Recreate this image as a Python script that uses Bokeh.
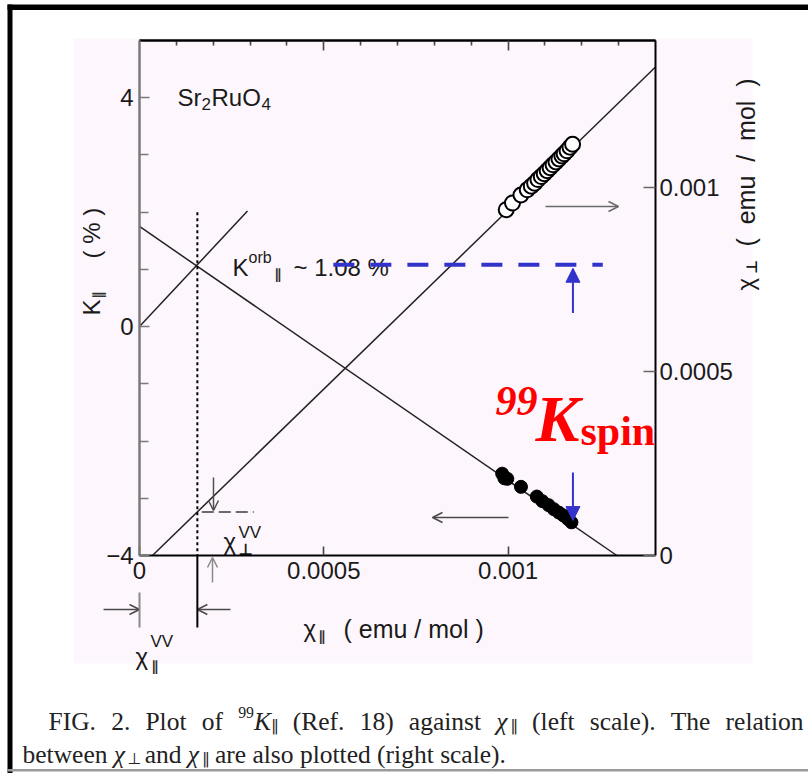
import math
from bokeh.plotting import figure
from bokeh.models import (Range1d, LinearAxis, FixedTicker, Label, Arrow,
                          OpenHead, NormalHead, BoxAnnotation)
from bokeh.core.properties import value
from bokeh.embed import file_html
from bokeh.resources import INLINE

# ---------------------------------------------------------------- data
# Knight shift of 99Ru (left scale) against chi_par
chi_par_k = [0.000984, 0.000990, 0.000998, 0.001035, 0.001078, 0.001093,
             0.001110, 0.001124, 0.001138, 0.001150, 0.001162, 0.001172]
k_par = [-2.57, -2.65, -2.66, -2.80, -2.97, -3.05,
         -3.12, -3.19, -3.25, -3.30, -3.36, -3.42]

# chi_perp against chi_par (right scale)
chi_par_open = [0.000995, 0.001012, 0.001035, 0.001052, 0.001063, 0.001072,
                0.001081, 0.001090, 0.001098, 0.001106, 0.001114, 0.001122,
                0.001130, 0.001138, 0.001146, 0.001152, 0.001160, 0.001168,
                0.001175]
chi_perp_open = [0.000940, 0.000958, 0.000980, 0.000994, 0.001004, 0.001012,
                 0.001022, 0.001030, 0.001038, 0.001046, 0.001054, 0.001062,
                 0.001070, 0.001078, 0.001086, 0.001092, 0.001100, 0.001110,
                 0.001118]

# fitted straight lines (end points)
k_fit_chi = [0.0, 0.001295]
k_fit_k = [1.75, -4.0]
orb_fit_chi = [0.0, 0.000293]
orb_fit_k = [0.0, 2.02]
perp_fit_chi_par = [0.0000352, 0.0014]
perp_fit_chi_perp = [0.0, 0.001328]

chi_vv_par = 0.000157     # Van Vleck part of chi_par
chi_vv_perp = 0.000118    # Van Vleck part of chi_perp
k_orb = 1.08              # orbital Knight shift (%)
k_orb_top = 2.0           # top of the dotted marker

# ticks
x_ticks = [0, 0.0005, 0.001]
x_tick_labels = ["0", "0.0005", "0.001"]
x_minor = [0.0001, 0.0002, 0.0003, 0.0004, 0.0006, 0.0007, 0.0008, 0.0009,
           0.0011, 0.0012, 0.0013]
k_ticks = [-4, 0, 4]
k_tick_labels = ["\u22124", "0", "4"]
k_minor = [-3, -2, -1, 1, 2, 3]
perp_ticks = [0, 0.0005, 0.001]
perp_tick_labels = ["0", "0.0005", "0.001"]

X_BOX = (0.0, 0.0014)      # chi_par span of the plot box
K_BOX = (-4.0, 5.0)        # K span of the plot box
PERP_BOX = (0.0, 0.0014)   # chi_perp span of the plot box

# ---------------------------------------------------------------- page geometry
W, H = 808, 773
BOX_L, BOX_R, BOX_T, BOX_B = 139, 655, 40, 555   # plot box on the page

SANS = "Liberation Sans"
SYM = "DejaVu Sans"
SERIF = "Liberation Serif"
INK = "#1a1a1a"
PINK = "#fdf7fd"
BLUE = "#3333cc"
RED = "#ff0000"
NB = "\u00a0"   # non-collapsing space for wide gaps in titles


def cx(px):
    """page column -> chi_par"""
    return X_BOX[0] + (px - BOX_L) * (X_BOX[1] - X_BOX[0]) / (BOX_R - BOX_L)


def cy(py):
    """page row -> K (left scale)"""
    return K_BOX[1] - (py - BOX_T) * (K_BOX[1] - K_BOX[0]) / (BOX_B - BOX_T)


def cperp(py):
    """page row -> chi_perp (right scale)"""
    return PERP_BOX[0] + (BOX_B - py) * (PERP_BOX[1] - PERP_BOX[0]) / (BOX_B - BOX_T)


# the frame covers the whole page; axes sit at fixed locations around the box
p = figure(width=W, height=H, x_range=Range1d(cx(0), cx(W)),
           y_range=Range1d(cy(H), cy(0)),
           output_backend="svg", toolbar_location=None,
           x_axis_location=None, y_axis_location=None, min_border=0)
p.extra_y_ranges = {"perp": Range1d(cperp(H), cperp(0))}
p.grid.visible = False
p.background_fill_color = "white"
p.border_fill_color = "white"
p.outline_line_color = None

# ---------------------------------------------------------------- page decoration
p.add_layout(BoxAnnotation(left=cx(73), right=cx(752), top=cy(38), bottom=cy(663),
                           fill_color=PINK, fill_alpha=1.0, line_color=None,
                           level="underlay"))
p.add_layout(BoxAnnotation(left=cx(7), right=cx(815), top=cy(4), bottom=cy(9.5),
                           fill_color="black", fill_alpha=1.0, line_color=None))
p.add_layout(BoxAnnotation(left=cx(7), right=cx(12), top=cy(4), bottom=cy(780),
                           fill_color="black", fill_alpha=1.0, line_color=None))
p.add_layout(BoxAnnotation(left=cx(7), right=cx(815), top=cy(768.5), bottom=cy(771),
                           fill_color="#9a9a9a", fill_alpha=1.0, line_color=None))


# ---------------------------------------------------------------- axes
def style_axis(ax, line_color="black", tick_color="#444", tick_in=10, minor_in=0,
               standoff=6):
    ax.axis_line_color = line_color
    ax.axis_line_width = 2
    ax.major_tick_in = tick_in
    ax.major_tick_out = 0
    ax.minor_tick_in = minor_in
    ax.minor_tick_out = 0
    ax.major_tick_line_color = tick_color
    ax.major_tick_line_width = 1.6
    ax.minor_tick_line_color = tick_color
    ax.minor_tick_line_width = 1.6
    ax.major_label_text_font = SANS
    ax.major_label_text_font_size = "24px"
    ax.major_label_text_color = INK
    ax.major_label_standoff = standoff


xb = LinearAxis(ticker=FixedTicker(ticks=x_ticks, minor_ticks=[]),
                major_label_overrides=dict(zip(x_ticks, x_tick_labels)),
                fixed_location=K_BOX[0], bounds=X_BOX)
style_axis(xb, tick_in=9, standoff=6)
p.add_layout(xb, "below")

# top edge: short minor ticks and longer ticks at the labelled values, no labels
xt_minor = LinearAxis(ticker=FixedTicker(ticks=[], minor_ticks=x_minor),
                      fixed_location=K_BOX[1], bounds=X_BOX)
style_axis(xt_minor, minor_in=5)
p.add_layout(xt_minor, "above")
xt_major = LinearAxis(ticker=FixedTicker(ticks=[], minor_ticks=x_ticks[1:]),
                      fixed_location=K_BOX[1], bounds=X_BOX)
style_axis(xt_major, minor_in=10)
p.add_layout(xt_major, "above")

yl = LinearAxis(ticker=FixedTicker(ticks=k_ticks, minor_ticks=k_minor),
                major_label_overrides=dict(zip(k_ticks, k_tick_labels)),
                fixed_location=X_BOX[0], bounds=K_BOX)
style_axis(yl, line_color="#7a7a7a", tick_color="#7a7a7a", tick_in=10, minor_in=9,
           standoff=6)
yl.axis_line_width = 2.5
p.add_layout(yl, "left")

yr = LinearAxis(y_range_name="perp",
                ticker=FixedTicker(ticks=perp_ticks, minor_ticks=[]),
                major_label_overrides=dict(zip(perp_ticks, perp_tick_labels)),
                fixed_location=X_BOX[1], bounds=PERP_BOX)
style_axis(yr, tick_color="#666", tick_in=12, standoff=4)
p.add_layout(yr, "right")

# ---------------------------------------------------------------- lines
p.line(k_fit_chi, k_fit_k, line_color="#222222", line_width=1.5)
p.line(orb_fit_chi, orb_fit_k, line_color="#222222", line_width=1.5)
p.line(perp_fit_chi_par, perp_fit_chi_perp, y_range_name="perp",
       line_color="#222222", line_width=1.5)
p.line([chi_vv_par, chi_vv_par], [k_orb_top, K_BOX[0]], line_color="black",
       line_width=2, line_dash="3 3")
p.line([chi_vv_par + 0.000012, 0.00031], [chi_vv_perp, chi_vv_perp],
       y_range_name="perp", line_color="#6a6a6a", line_width=2, line_dash="12 5")


# ---------------------------------------------------------------- in-plot text
def glyph_text(px, py, s, size, font=SANS, color=INK, style="normal"):
    p.text(x=[cx(px)], y=[cy(py)], text=[s], text_font=value(font),
           text_font_size=value(f"{size}px"), text_color=color,
           text_font_style=style, text_baseline="alphabetic", text_align="left")


glyph_text(177, 97, "Sr", 24)
glyph_text(201, 103, "2", 17)
glyph_text(211, 97, "RuO", 24)
glyph_text(261, 103, "4", 17)

glyph_text(232, 267, "K", 24)
glyph_text(248, 257, "orb", 16)
glyph_text(274, 273, "\u2225", 14, font=SYM, color="#333333", style="bold")
glyph_text(293, 267, "~ 1.08 %", 24)

glyph_text(223, 541, "\u03c7", 24)
glyph_text(238, 532, "VV", 17)
glyph_text(238, 549, "\u22a5", 16, font=SYM, style="bold")

# K_orb level (drawn over the label)
p.line([0.000526, 0.001257], [k_orb, k_orb], line_color=BLUE, line_width=4,
       line_dash="21 16")

# ---------------------------------------------------------------- data points
p.scatter(chi_par_open, chi_perp_open, y_range_name="perp", size=15,
          fill_color="white", line_color="black", line_width=2)
p.scatter(chi_par_k, k_par, size=13, fill_color="black", line_color="black")


# ---------------------------------------------------------------- arrows
def arrow(x0, y0, x1, y1, color="#444444", width=1.5, head="open", size=10):
    if head == "open":
        end = OpenHead(size=size, line_color=color, line_width=width)
    elif head == "filled":
        end = NormalHead(size=size, fill_color=color, line_color=color)
    else:
        end = None
    p.add_layout(Arrow(end=end, x_start=x0, y_start=y0, x_end=x1, y_end=y1,
                       line_color=color, line_width=width))


# which scale each point set belongs to
arrow(cx(508), cy(517), cx(432), cy(517), color="#4a4a4a")
arrow(cx(545), cy(206), cx(618), cy(206), color="#6a6a6a")
# spin part markers
arrow(0.001176, 0.24, 0.001176, 1.02, color=BLUE, width=2, head="filled", size=14)
arrow(0.001176, -2.55, 0.001176, -3.39, color=BLUE, width=2, head="filled", size=14)
# Van Vleck markers
arrow(cx(213), cy(477), cx(213), cy(510), color="#505050")
arrow(cx(212), cy(582), cx(212), cy(557), color="#8a8a8a")
arrow(cx(103), cy(609), 0.0, cy(609), color="#4a4a4a")
arrow(cx(230), cy(609), chi_vv_par, cy(609), color="#4a4a4a")
arrow(chi_vv_par, K_BOX[0], chi_vv_par, cy(627), color="black", width=2, head=None)
arrow(0.0, cy(592), 0.0, cy(627), color="#8a8a8a", width=2, head=None)


# ---------------------------------------------------------------- annotation text
def note(px, py, s, size, font=SANS, style="normal", color=INK, angle=0.0):
    p.add_layout(Label(x=cx(px), y=cy(py), text=s, text_font=font,
                       text_font_size=f"{size}px", text_font_style=style,
                       text_color=color, text_baseline="alphabetic",
                       text_align="left", angle=angle))


# 99K_spin
note(495, 400, "99", 42, font=SERIF, style="bold italic", color=RED)
note(535, 418, "K", 66, font=SERIF, style="bold italic", color=RED)
note(580, 430, "spin", 42, font=SERIF, style="bold", color=RED)

# chi_par^VV below the axis
note(135, 656, "\u03c7", 24)
note(150, 641, "VV", 17)
note(151, 665, "\u2225", 14, font=SYM, style="bold", color="#333333")

# axis titles
note(303, 628, "\u03c7", 24)
note(318, 635, "\u2225", 14, font=SYM, style="bold", color="#333333")
note(343, 628, "( emu / mol )", 25)

UP = math.pi / 2
note(91, 315, "K", 24, angle=UP)
note(97, 298, "\u2225", 14, font=SYM, style="bold", color="#333333", angle=UP)
note(91, 258, "( % )", 24, angle=UP)

note(745, 290, "\u03c7", 24, angle=UP)
note(751, 273, "\u22a5", 15, font=SYM, style="bold", angle=UP)
note(745, 246, "(" + NB * 2 + "emu" + NB * 2 + "/" + NB * 2 + "mol" + NB * 2 + ")",
     25, angle=UP)

# ---------------------------------------------------------------- caption
TIMES = {' ': 250, '.': 250, '(': 333, ')': 333, '1': 500, '2': 500, '8': 500,
         '9': 500, 'F': 556, 'I': 333, 'G': 722, 'P': 556, 'R': 667, 'T': 611,
         'K': 667, 'a': 444, 'b': 500, 'c': 444, 'd': 500, 'e': 444, 'f': 333,
         'g': 500, 'h': 500, 'i': 278, 'l': 278, 'n': 500, 'o': 500, 'p': 500,
         'r': 333, 's': 389, 't': 278, 'w': 722, '\u03c7': 550, '\u2225': 420,
         '\u22a5': 660}
CAP = 25.5
SMALL = 0.62


def run_width(text, kind):
    scale = SMALL if kind in ("sup", "sub") else 1.0
    return sum(TIMES.get(c, 500) for c in text) / 1000.0 * CAP * scale


def caption_line(words, x0, baseline, x1=None):
    widths = [sum(run_width(t, k) for t, k in w) for w in words]
    if x1 is None:
        gap = 0.25 * CAP
    else:
        gap = (x1 - x0 - sum(widths)) / (len(words) - 1)
    x = x0
    for w in words:
        for t, k in w:
            size = CAP * (SMALL if k in ("sup", "sub") else 1.0)
            dy = {"sup": -0.36 * CAP, "sub": 0.16 * CAP}.get(k, 0.0)
            style = "italic" if k == "i" else "normal"
            font = SYM if t in ("\u2225", "\u22a5") else SERIF
            note(x, baseline + dy, t, round(size, 1), font=font, style=style,
                 color="#222222")
            x += run_width(t, k)
        x += gap


def plain(s):
    return [(s, "r")]


line1 = [plain("FIG."), plain("2."), plain("Plot"), plain("of"),
         [("99", "sup"), ("K", "i"), ("\u2225", "sub")],
         plain("(Ref."), plain("18)"), plain("against"),
         [("\u03c7", "i"), ("\u2225", "sub")],
         plain("(left"), plain("scale)."), plain("The"), plain("relation")]
line2 = [plain("between"), [("\u03c7", "i"), ("\u22a5", "sub")], plain("and"),
         [("\u03c7", "i"), ("\u2225", "sub")], plain("are"), plain("also"),
         plain("plotted"), plain("(right"), plain("scale).")]

caption_line(line1, 48, 721, x1=803)
caption_line(line2, 22, 754)

open("out.html", "w").write(file_html(p, INLINE))
